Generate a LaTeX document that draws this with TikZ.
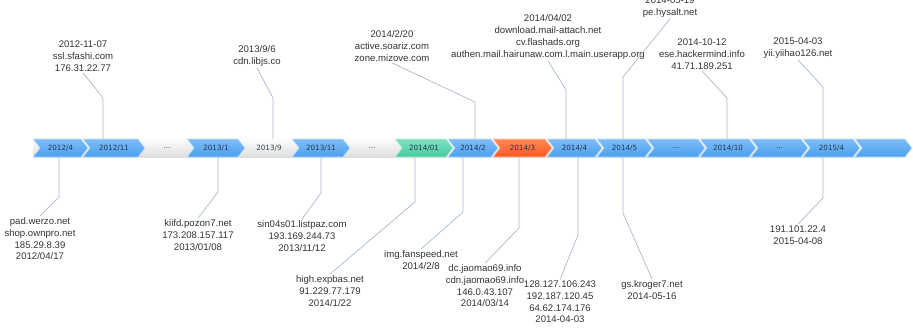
\documentclass[tikz,border=0pt]{standalone}
\usepackage{fontspec}
\setmainfont{Liberation Sans}
\newfontfamily\barfont{DejaVu Sans}
\usetikzlibrary{shapes.symbols}
\definecolor{chevblue}{HTML}{4A9FF0}
\definecolor{chevbluetop}{HTML}{7FBDF7}
\definecolor{chevgreen}{HTML}{45CBA0}
\definecolor{chevgreentop}{HTML}{7FE0C2}
\definecolor{chevred}{HTML}{FF5520}
\definecolor{chevredtop}{HTML}{FF8A55}
\definecolor{bandgrey}{HTML}{DEDEDE}
\definecolor{linegrey}{HTML}{A9B8CC}
\definecolor{barink}{HTML}{22364E}
\definecolor{infoink}{HTML}{333333}
\begin{document}
\begin{tikzpicture}[x=1pt,y=-1pt,
    month/.style={signal, signal from=west, signal to=east, signal pointer angle=104,
      minimum height=18pt, inner sep=0pt, outer sep=0pt,
      font=\barfont\fontsize{7.2}{8}\selectfont, text=barink,
      draw=white!70!chevblue, line width=0.6pt},
    monthblue/.style={month, top color=chevbluetop, bottom color=chevblue},
    monthgreen/.style={month, top color=chevgreentop, bottom color=chevgreen, draw=white!70!chevgreen},
    monthred/.style={month, top color=chevredtop, bottom color=chevred, draw=white!70!chevred},
    gaplabel/.style={font=\barfont\fontsize{7.2}{8}\selectfont, text=barink!80!gray},
    callout/.style={draw=linegrey, line width=0.7pt},
    info/.style={align=center, font=\fontsize{9.6}{11.7}\selectfont, text=infoink, inner sep=1.5pt}]
  \useasboundingbox (0,0) rectangle (913,329);

  % grey band under the months
  \node[rectangle, minimum width=827pt, minimum height=18pt, inner sep=0pt, outer sep=0pt,
    top color=white!92!bandgrey, bottom color=bandgrey] (band) at (446.5,148) {};

  \node[monthblue, minimum width=55pt] (m1204) at (60.5,148) {2012/4};
  \node[monthblue, minimum width=62pt] (m1211) at (114,148) {2012/11};
  \node[gaplabel] (gap1) at (167,148) {...};
  \node[monthblue, minimum width=58pt] (m1301) at (216,148) {2013/1};
  \node[gaplabel] (m1309) at (269,148) {2013/9};
  \node[monthblue, minimum width=58pt] (m1311) at (321,148) {2013/11};
  \node[gaplabel] (gap2) at (372,148) {...};
  \node[monthgreen, minimum width=58pt] (m1401) at (424,148) {2014/01};
  \node[monthblue, minimum width=50pt] (m1402) at (473,148) {2014/2};
  \node[monthred, minimum width=59pt] (m1403) at (522.5,148) {2014/3};
  \node[monthblue, minimum width=55pt] (m1404) at (574.5,148) {2014/4};
  \node[monthblue, minimum width=55pt] (m1405) at (624.5,148) {2014/5};
  \node[monthblue, minimum width=58pt] (gap3) at (676,148) {...};
  \node[monthblue, minimum width=56pt] (m1410) at (728,148) {2014/10};
  \node[monthblue, minimum width=57pt] (gap4) at (779.5,148) {...};
  \node[monthblue, minimum width=57pt] (m1504) at (831.5,148) {2015/4};
  \node[monthblue, minimum width=57pt] (mend) at (883.5,148) {};

  % findings above the bar
  \node[info] (ssl) at (83,56) {2012-11-07\\ssl.sfashi.com\\176.31.22.77};
  \node[info] (libjs) at (257,56) {2013/9/6\\cdn.libjs.co};
  \node[info] (soariz) at (392,46) {2014/2/20\\active.soariz.com\\zone.mizove.com};
  \node[info] (mailattach) at (548,37) {2014/04/02\\download.mail-attach.net\\cv.flashads.org\\authen.mail.hairunaw.com.l.main.userapp.org};
  \node[info] (hysalt) at (670,7) {2014-05-19\\pe.hysalt.net};
  \node[info] (hackermind) at (702,54) {2014-10-12\\ese.hackermind.info\\41.71.189.251};
  \node[info] (yiihao) at (798,48) {2015-04-03\\yii.yiihao126.net};

  % findings below the bar
  \node[info] (werzo) at (40,239) {pad.werzo.net\\shop.ownpro.net\\185.29.8.39\\2012/04/17};
  \node[info] (pozon) at (198,235) {kiifd.pozon7.net\\173.208.157.117\\2013/01/08};
  \node[info] (listpaz) at (302,236) {sin04s01.listpaz.com\\193.169.244.73\\2013/11/12};
  \node[info] (expbas) at (330,291) {high.expbas.net\\91.229.77.179\\2014/1/22};
  \node[info] (fanspeed) at (421,260) {img.fanspeed.net\\2014/2/8};
  \node[info] (jaomao) at (485,286) {dc.jaomao69.info\\cdn.jaomao69.info\\146.0.43.107\\2014/03/14};
  \node[info] (ips) at (560,302) {128.127.106.243\\192.187.120.45\\64.62.174.176\\2014-04-03};
  \node[info] (kroger) at (652,290) {gs.kroger7.net\\2014-05-16};
  \node[info] (ip0408) at (798,235) {191.101.22.4\\2015-04-08};

  \coordinate (ssl-k) at (103,98);
  \coordinate (libjs-k) at (273,98);
  \coordinate (soariz-k) at (475,102);
  \coordinate (mailattach-k) at (566,90);
  \coordinate (hysalt-k) at (623,77);
  \coordinate (hackermind-k) at (727,98);
  \coordinate (yiihao-k) at (823,87);
  \coordinate (werzo-k) at (59,197);
  \coordinate (pozon-k) at (218,192);
  \coordinate (listpaz-k) at (321,193);
  \coordinate (expbas-k) at (415,202);
  \coordinate (fanspeed-k) at (463,212);
  \coordinate (jaomao-k) at (519,228);
  \coordinate (ips-k) at (578,235);
  \coordinate (kroger-k) at (623,213);
  \coordinate (ip0408-k) at (823,198);

  \begin{scope}[callout]
    \draw (band.north -| ssl-k) -- (ssl-k) -- (ssl.south);
    \draw (band.north -| libjs-k) -- (libjs-k) -- (libjs.south);
    \draw (band.north -| soariz-k) -- (soariz-k) -- (soariz.south);
    \draw (band.north -| mailattach-k) -- (mailattach-k) -- (mailattach.south);
    \draw (band.north -| hysalt-k) -- (hysalt-k) -- (hysalt.south);
    \draw (band.north -| hackermind-k) -- (hackermind-k) -- (hackermind.south);
    \draw (band.north -| yiihao-k) -- (yiihao-k) -- (yiihao.south);
    \draw (band.south -| werzo-k) -- (werzo-k) -- (werzo.north);
    \draw (band.south -| pozon-k) -- (pozon-k) -- (pozon.north);
    \draw (band.south -| listpaz-k) -- (listpaz-k) -- (listpaz.north);
    \draw (band.south -| expbas-k) -- (expbas-k) -- (expbas.north);
    \draw (band.south -| fanspeed-k) -- (fanspeed-k) -- (fanspeed.north);
    \draw (band.south -| jaomao-k) -- (jaomao-k) -- (jaomao.north);
    \draw (band.south -| ips-k) -- (ips-k) -- (ips.north);
    \draw (band.south -| kroger-k) -- (kroger-k) -- (kroger.north);
    \draw (band.south -| ip0408-k) -- (ip0408-k) -- (ip0408.north);
  \end{scope}
\end{tikzpicture}
\end{document}
